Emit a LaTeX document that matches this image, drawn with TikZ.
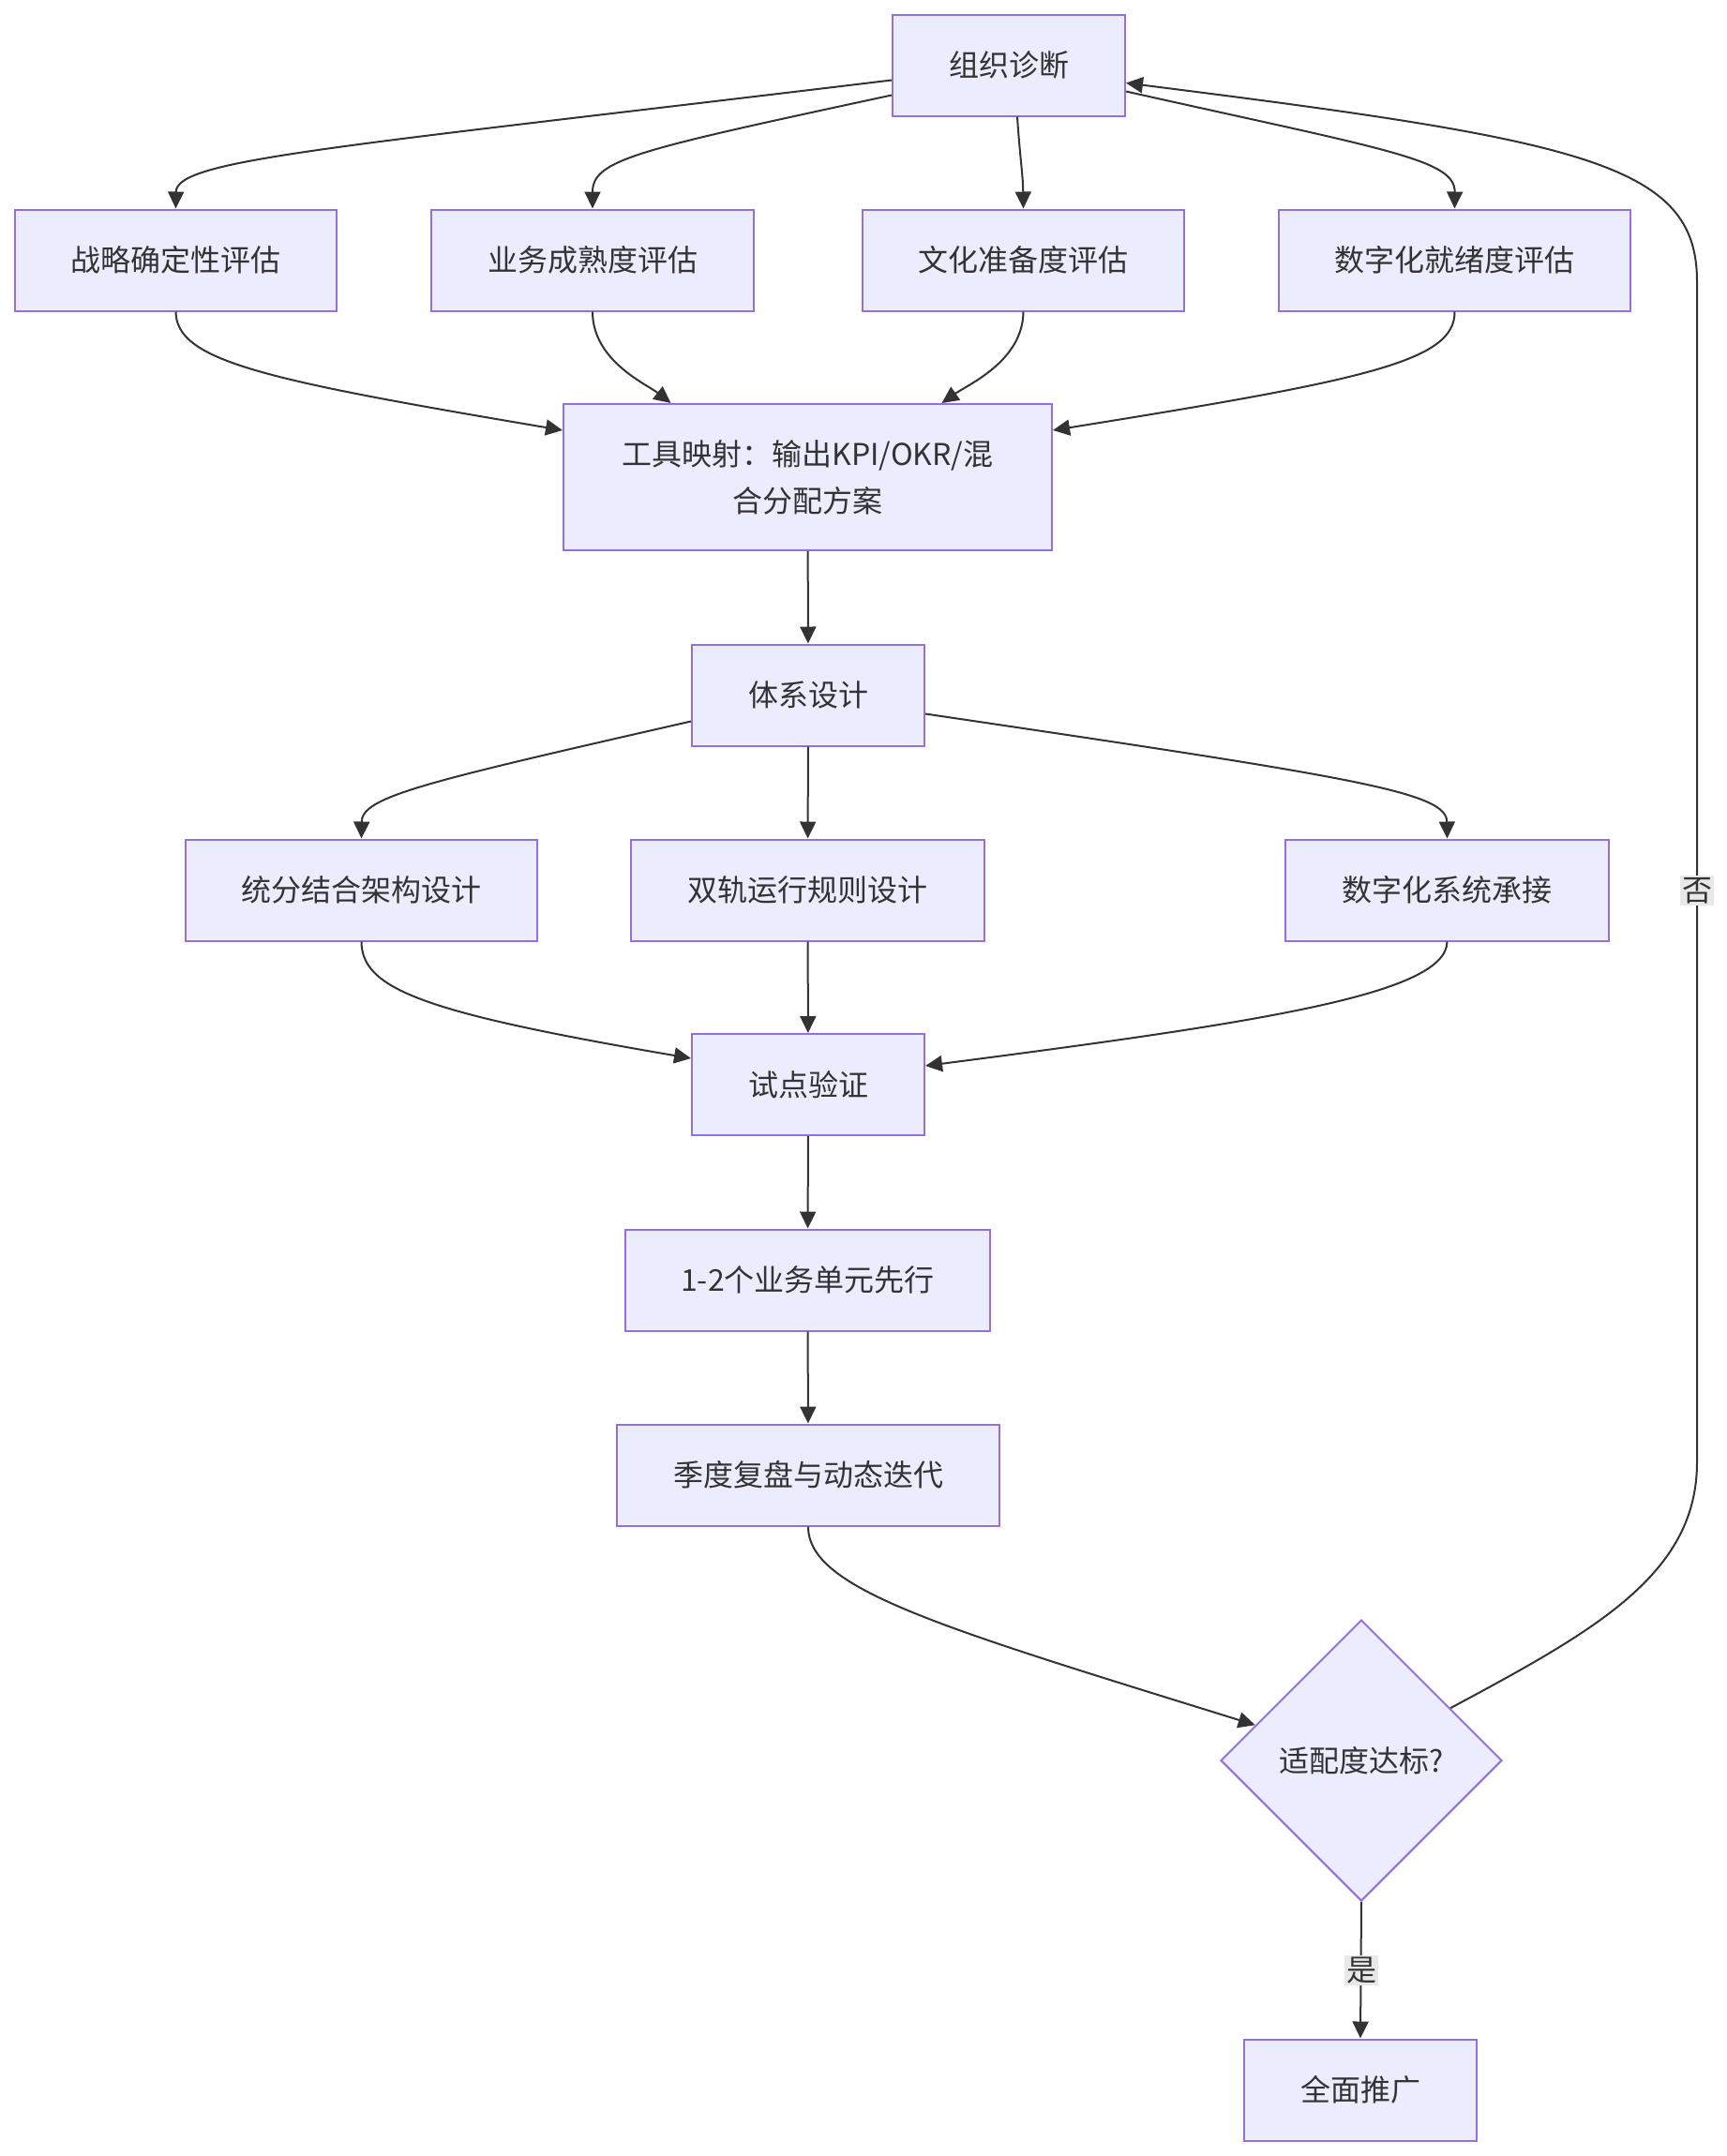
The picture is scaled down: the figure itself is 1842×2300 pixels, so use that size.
\documentclass[tikz,border=0pt]{standalone}
\usepackage{fontspec}
\setmainfont{Noto Sans CJK SC}
\usetikzlibrary{arrows.meta,shapes.geometric,calc}
\definecolor{boxfill}{HTML}{ECECFF}
\definecolor{boxline}{HTML}{9370DB}
\definecolor{ink}{HTML}{333333}
\definecolor{lblbg}{HTML}{E8E8E8}
\tikzset{
  box/.style={draw=boxline, fill=boxfill, line width=2pt, text=ink, inner sep=0pt,
    minimum height=108pt, font=\fontsize{32}{50}\selectfont, align=center},
  dec/.style={diamond, draw=boxline, fill=boxfill, line width=2pt, text=ink, inner sep=0pt,
    minimum width=300pt, minimum height=300pt, aspect=1, font=\fontsize{32}{50}\selectfont},
  link/.style={draw=ink, line width=2pt, -{Triangle[length=18pt,width=17pt]}},
  lbl/.style={fill=lblbg, text=ink, inner sep=2pt, font=\fontsize{32}{40}\selectfont}
}
\begin{document}
\begin{tikzpicture}[x=1pt,y=-1pt]
\fill[white] (0,0) rectangle (1842,2300);
\useasboundingbox (0,0) rectangle (1842,2300);

\node[box, minimum width=248pt] (org) at (1076,69.5) {组织诊断};
\node[box, minimum width=343pt] (s1) at (187.5,277.5) {战略确定性评估};
\node[box, minimum width=344pt] (s2) at (632,277.5) {业务成熟度评估};
\node[box, minimum width=343pt] (s3) at (1091.5,277.5) {文化准备度评估};
\node[box, minimum width=375pt] (s4) at (1551.5,277.5) {数字化就绪度评估};
\node[box, minimum width=521pt, minimum height=156pt] (tool) at (861.5,509) {工具映射：输出KPI/OKR/混\\合分配方案};
\node[box, minimum width=248pt] (sys) at (862,741.5) {体系设计};
\node[box, minimum width=375pt] (d1) at (385.5,949.5) {统分结合架构设计};
\node[box, minimum width=377pt] (d2) at (861.5,949.5) {双轨运行规则设计};
\node[box, minimum width=345pt] (d3) at (1543.5,949.5) {数字化系统承接};
\node[box, minimum width=248pt] (pilot) at (862,1157) {试点验证};
\node[box, minimum width=389pt] (unit) at (861.5,1365.5) {1-2个业务单元先行};
\node[box, minimum width=408pt] (review) at (862,1573.5) {季度复盘与动态迭代};
\node[dec] (dia) at (1452,1878) {适配度达标?};
\node[box, minimum width=248pt] (full) at (1451,2229.5) {全面推广};

% organisation diagnosis to assessments
\draw[link] ([yshift=-16pt]org.west) .. controls (350,158) and (188,170) .. (s1.north);
\draw[link] ([yshift=-32pt]org.west) .. controls (680,160) and (632,170) .. (s2.north);
\draw[link] ([xshift=9pt]org.south) .. controls (1088,170) and (1091,185) .. (s3.north);
\draw[link] ([yshift=-28pt]org.east) .. controls (1480,160) and (1552,170) .. (s4.north);

% assessments to tool mapping
\draw[link] (s1.south) .. controls (188,385) and (280,405) .. ([yshift=50pt]tool.west);
\draw[link] (s2.south) .. controls (632,385) and (690,410) .. ([xshift=-146pt]tool.north);
\draw[link] (s3.south) .. controls (1091,385) and (1033,410) .. ([xshift=143pt]tool.north);
\draw[link] (s4.south) .. controls (1552,385) and (1460,405) .. ([yshift=50pt]tool.east);

\draw[link] (tool) -- (sys);

\draw[link] ([yshift=-28pt]sys.west) .. controls (450,835) and (386,850) .. (d1.north);
\draw[link] (sys) -- (d2);
\draw[link] ([yshift=-20pt]sys.east) .. controls (1450,830) and (1543,845) .. (d3.north);

\draw[link] (d1.south) .. controls (386,1055) and (450,1080) .. ([yshift=28pt]pilot.west);
\draw[link] (d2) -- (pilot);
\draw[link] (d3.south) .. controls (1543,1060) and (1350,1090) .. ([yshift=20pt]pilot.east);

\draw[link] (pilot) -- (unit);
\draw[link] (unit) -- (review);

\coordinate (diain) at ($(dia.west)!0.25!(dia.north)$);
\draw[link] (review.south) .. controls (862,1695) and (1000,1735) .. (diain);

\coordinate (diaout) at ($(dia.north)!0.63!(dia.east)$);
\draw[link] (diaout) .. controls (1700,1740) and (1810,1680) .. (1810,1560)
  -- (1810,300) .. controls (1810,175) and (1690,150) .. ([yshift=-19pt]org.east);
\node[lbl] (no) at (1810,950) {否};

\draw[link] (dia.south) -- (full.north);
\node[lbl] (yes) at (1452,2102) {是};
\end{tikzpicture}
\end{document}
